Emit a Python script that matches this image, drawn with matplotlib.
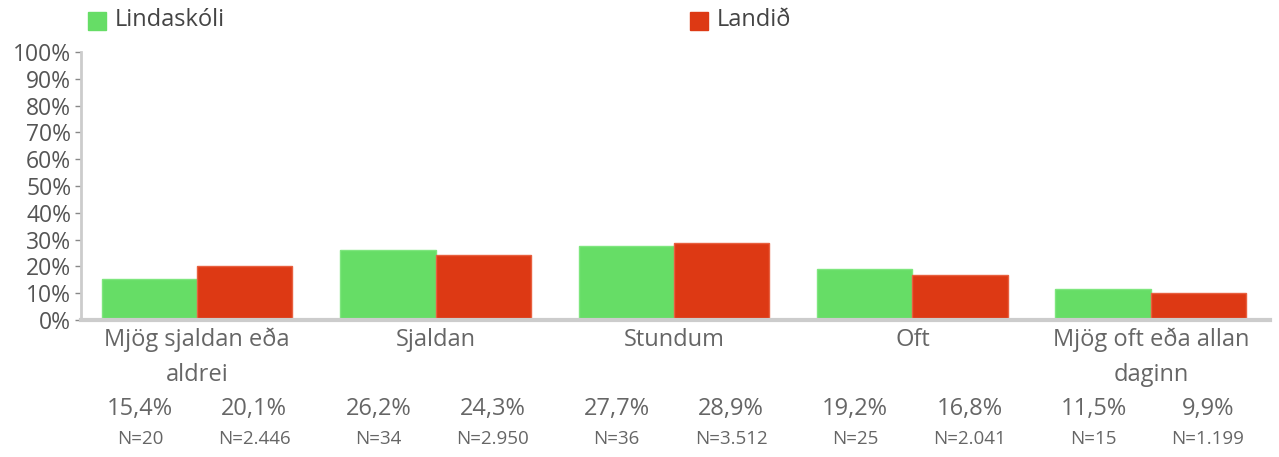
import numpy as np
import matplotlib.pyplot as plt
import matplotlib.transforms as mtransforms

plt.rcParams['font.family'] = ['Open Sans', 'DejaVu Sans']

categories = ["Mjög sjaldan eða\naldrei", "Sjaldan", "Stundum", "Oft", "Mjög oft eða allan\ndaginn"]
series_names = ["Lindaskóli", "Landið"]
school = [15.4, 26.2, 27.7, 19.2, 11.5]
country = [20.1, 24.3, 28.9, 16.8, 9.9]
school_n = ["N=20", "N=34", "N=36", "N=25", "N=15"]
country_n = ["N=2.446", "N=2.950", "N=3.512", "N=2.041", "N=1.199"]

green = "#66dd66"
red = "#dd3914"
text_col = "#555555"

fig = plt.figure(figsize=(12.79, 4.57), dpi=100)
ax = fig.add_axes([0.0633, 0.2998, 0.9297, 0.5864])

x = np.arange(len(categories))
w = 0.40
ax.bar(x - w / 2, school, w, color=green, edgecolor="#7ee67e", linewidth=1)
ax.bar(x + w / 2, country, w, color=red, edgecolor="#e8603f", linewidth=1)

ax.set_ylim(0, 100)
ax.set_xlim(-0.487, 4.5)
ax.set_yticks(np.arange(0, 101, 10))
ax.set_yticklabels([f"{v}%" for v in range(0, 101, 10)])
ax.set_xticks([])
ax.tick_params(axis="y", length=4, width=1, color="#888888", labelsize=16.5,
               labelcolor=text_col, pad=3)

for s in ["top", "right"]:
    ax.spines[s].set_visible(False)
ax.spines["left"].set_color("#cccccc")
ax.spines["left"].set_linewidth(2)
ax.spines["bottom"].set_color("#cccccc")
ax.spines["bottom"].set_linewidth(3)

# labels under the axis, x in data units, y in figure fraction
trans = mtransforms.blended_transform_factory(ax.transData, fig.transFigure)
for i, cat in enumerate(categories):
    lines = cat.split("\n")
    for k, line in enumerate(lines):
        ax.text(i, 1 - (340 + 35 * k) / 457, line, transform=trans, ha="center",
                va="center", fontsize=17, color="#666666")
    for off, val, n in [(-0.24, school[i], school_n[i]), (0.24, country[i], country_n[i])]:
        ax.text(i + off, 1 - 409 / 457, f"{val:.1f}%".replace(".", ","), transform=trans,
                ha="center", va="center", fontsize=17, color="#666666")
        ax.text(i + off, 1 - 439 / 457, n, transform=trans,
                ha="center", va="center", fontsize=13.5, color="#666666")

# legend
for xpos, col, name in [(88, green, series_names[0]), (690, red, series_names[1])]:
    fig.patches.append(plt.Rectangle((xpos / 1279, 1 - 30 / 457), 18 / 1279, 18 / 457,
                                     transform=fig.transFigure, color=col))
    fig.text((xpos + 27) / 1279, 1 - 20 / 457, name, ha="left", va="center",
             fontsize=17, color="#444444")

fig.savefig("out.png", dpi=100)
